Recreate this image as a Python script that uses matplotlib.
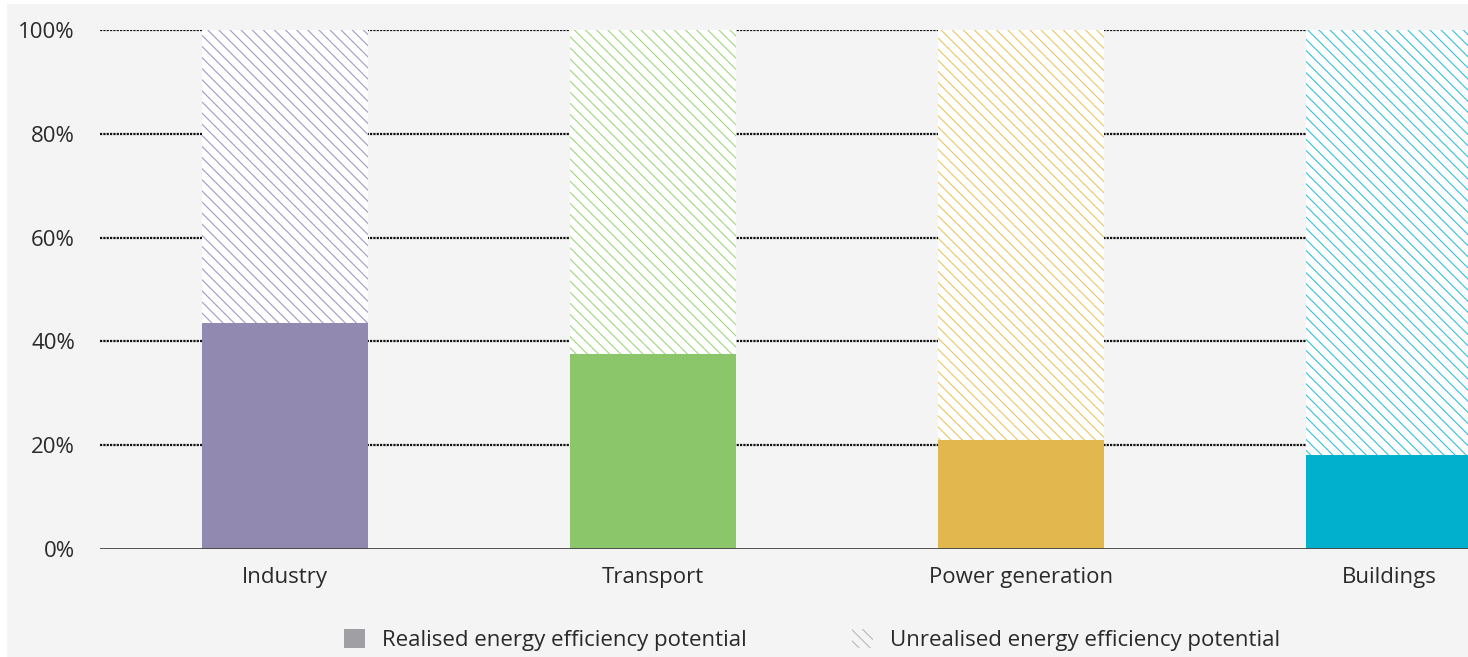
import matplotlib.pyplot as plt
from matplotlib.patches import Patch, Rectangle
from matplotlib.ticker import FuncFormatter

plt.rcParams["font.family"] = ["Open Sans", "DejaVu Sans"]
plt.rcParams["hatch.linewidth"] = 0.8

categories = ["Industry", "Transport", "Power generation", "Buildings"]
realised = [43.5, 37.6, 21.0, 18.1]
total = [100, 100, 100, 100]
bar_colors = ["#9189b0", "#8cc66a", "#e2b84e", "#00b0cc"]
hatch_colors = ["#a09ac6", "#9fd67f", "#ecc462", "#36c0d8"]
y_ticks = [0, 20, 40, 60, 80, 100]

BG = "#f4f4f4"
TEXT = "#2a2a2a"
FS = 16

fig = plt.figure(figsize=(14.68, 6.57), dpi=100, facecolor="white")
fig.patches.append(Rectangle((7 / 1468, 0), 1, 1 - 4 / 657, transform=fig.transFigure,
                             facecolor=BG, edgecolor="none", zorder=-10))
ax = fig.add_axes([100 / 1468, 108 / 657, 1 - 100 / 1468, (549 - 30) / 657])
ax.set_facecolor(BG)

x = range(len(categories))
width = 0.45
unrealised = [t - r for t, r in zip(total, realised)]

# unrealised share: hatched on white, realised share: solid fill
ax.bar(x, unrealised, width, bottom=realised, color="white", edgecolor=hatch_colors,
       hatch="\\\\\\", linewidth=0, zorder=2)
ax.bar(x, realised, width, color=bar_colors, linewidth=0, zorder=3)

for t in y_ticks[1:]:
    ax.axhline(t, color="#111111", linestyle=(0, (1, 0.5)), linewidth=1.6, zorder=1)
ax.axhline(0, color="#444444", linewidth=2, zorder=4)

ax.set_xlim(-0.503, 3.215)
ax.set_ylim(0, 100)
ax.set_yticks(y_ticks)
ax.yaxis.set_major_formatter(FuncFormatter(lambda v, _: f"{v:.0f}%"))
ax.set_xticks(list(x))
ax.set_xticklabels(categories)
ax.tick_params(axis="both", length=0, labelsize=FS, labelcolor=TEXT)
ax.tick_params(axis="y", pad=18)
ax.tick_params(axis="x", pad=13)
for side in ax.spines:
    ax.spines[side].set_visible(False)

handles = [
    Patch(facecolor="#a0a0a4", edgecolor="none", label="Realised energy efficiency potential"),
    Patch(facecolor=BG, edgecolor="#b8b8b8", hatch="\\\\\\", linewidth=0,
          label="Unrealised energy efficiency potential"),
]
fig.legend(handles=handles, loc="center", bbox_to_anchor=(812 / 1468, 1 - 640 / 657),
           ncol=2, frameon=False, fontsize=FS, labelcolor=TEXT, handlelength=0.95,
           handleheight=0.95, handletextpad=0.77, columnspacing=4.7)

fig.savefig("out.png", dpi=100, facecolor=fig.get_facecolor())
